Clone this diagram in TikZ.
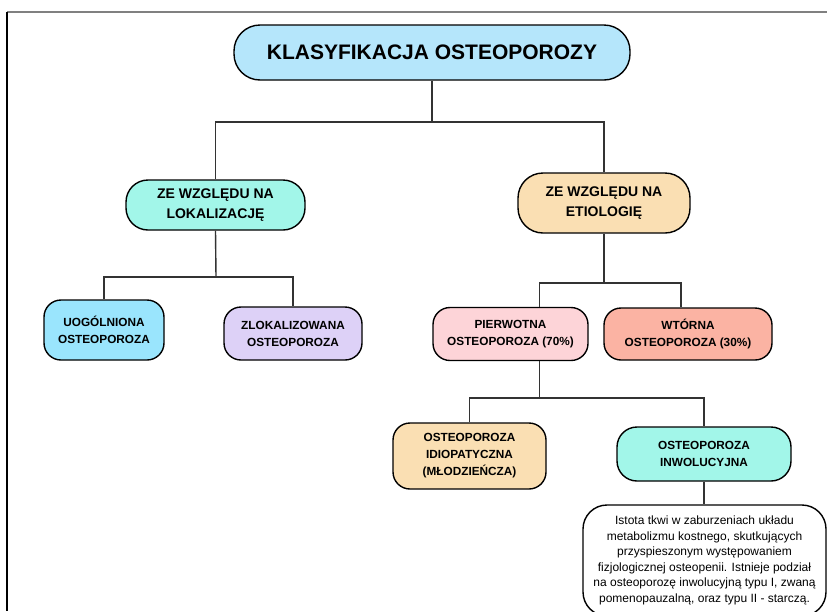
\documentclass[tikz,border=0pt]{standalone}
\usepackage{fontspec}
\setmainfont{Liberation Sans}
\usepackage{tikz}
\definecolor{cTitle}{HTML}{B5E6FB}
\definecolor{cMint}{HTML}{A2F6E9}
\definecolor{cSand}{HTML}{FADFB3}
\definecolor{cSky}{HTML}{9AE5FD}
\definecolor{cLilac}{HTML}{DDD1F7}
\definecolor{cPink}{HTML}{FDD4D8}
\definecolor{cSalmon}{HTML}{FBB3A3}
\definecolor{cLine}{HTML}{333333}

\begin{document}
\begin{tikzpicture}[x=1pt, y=-1pt,
  box/.style={draw=black, line width=1.4pt, rounded corners=17pt, align=center,
    inner sep=0pt, font=\fontsize{11.8}{17}\selectfont\bfseries},
  conn/.style={draw=cLine, line width=1.4pt}]
\useasboundingbox (0,0) rectangle (827,611);
\clip (0,0) rectangle (827,611);
% frame
\draw[gray, line width=1.2pt] (7,12) -- (827,12);
\draw[black, line width=1.2pt] (7,12) -- (7,611);

% levels
\node[box, fill=cTitle, rounded corners=26pt, minimum width=396pt, minimum height=55pt,
  font=\fontsize{21}{24}\selectfont\bfseries] (title) at (432,52.5) {KLASYFIKACJA OSTEOPOROZY};

\node[box, fill=cMint, rounded corners=22pt, minimum width=179pt, minimum height=50pt,
  font=\fontsize{14}{20}\selectfont\bfseries] (lok) at (215.5,205) {ZE WZGLĘDU NA\\LOKALIZACJĘ};
\node[box, fill=cSand, rounded corners=25pt, minimum width=172pt, minimum height=60pt,
  font=\fontsize{14}{20}\selectfont\bfseries] (etio) at (604,203) {ZE WZGLĘDU NA\\ETIOLOGIĘ};

\node[box, fill=cSky, minimum width=120pt, minimum height=60pt] (uog) at (104,330) {UOGÓLNIONA\\OSTEOPOROZA};
\node[box, fill=cLilac, minimum width=138pt, minimum height=53pt] (zlok) at (293,333.5) {ZLOKALIZOWANA\\OSTEOPOROZA};
\node[box, fill=cPink, minimum width=155pt, minimum height=53pt] (pier) at (510.5,334) {PIERWOTNA\\OSTEOPOROZA (70\%)};
\node[box, fill=cSalmon, minimum width=168pt, minimum height=52pt] (wtor) at (688,334) {WTÓRNA\\OSTEOPOROZA (30\%)};

\node[box, fill=cSand, minimum width=153pt, minimum height=66pt] (idio) at (469.5,456) {OSTEOPOROZA\\IDIOPATYCZNA\\(MŁODZIEŃCZA)};
\node[box, fill=cMint, rounded corners=20pt, minimum width=174pt, minimum height=54pt] (inwo) at (704,454) {OSTEOPOROZA\\INWOLUCYJNA};

\node[box, fill=white, rounded corners=24pt, minimum width=243pt, minimum height=111pt,
  font=\fontsize{12}{15.5}\selectfont] (opis) at (704.5,560.5)
  {Istota tkwi w zaburzeniach układu\\metabolizmu kostnego, skutkujących\\przyspieszonym występowaniem\\fizjologicznej osteopenii. Istnieje podział\\na osteoporozę inwolucyjną typu I, zwaną\\pomenopauzalną, oraz typu II - starczą.};

% connectors
\coordinate (bus1) at (432,122);
\coordinate (bus2) at (216,277);
\coordinate (bus3) at (604,283);
\coordinate (bus4) at (539.5,398);
\draw[conn] (title.south) -- (bus1);
\draw[conn] (lok.north) |- (bus1) -| (etio.north);
\draw[conn] (lok.south) -- (bus2);
\draw[conn] (uog.north) |- (bus2) -| (zlok.north);
\draw[conn] (etio.south) -- (bus3);
\draw[conn] ([xshift=29pt]pier.north) |- (bus3) -| ([xshift=-7pt]wtor.north);
\draw[conn] ([xshift=29pt]pier.south) -- (bus4);
\draw[conn] (idio.north) |- (bus4) -| (inwo.north);
\draw[conn] (inwo.south) -- (opis.north -| inwo.south);
\end{tikzpicture}
\end{document}
